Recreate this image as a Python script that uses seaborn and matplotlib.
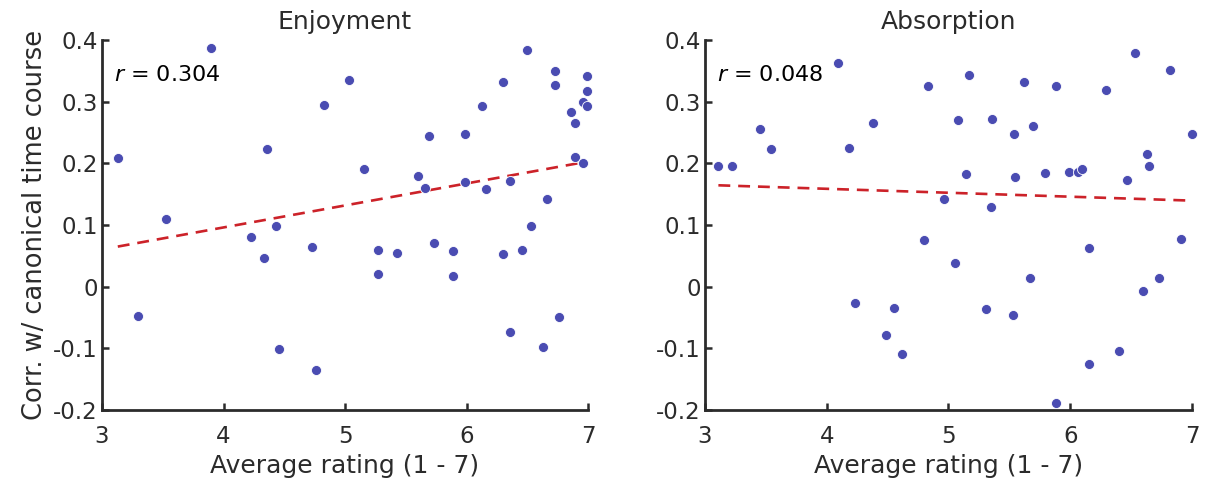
import numpy as np
import pandas as pd
import matplotlib
matplotlib.use("Agg")
import matplotlib.pyplot as plt
import seaborn as sns

# ---- data ----
enj_x = [3.13, 3.30, 3.53, 3.90, 4.23, 4.33, 4.36, 4.43, 4.46, 4.73, 4.76, 4.83,
         5.03, 5.16, 5.27, 5.27, 5.43, 5.60, 5.66, 5.69, 5.73, 5.89, 5.89, 5.99,
         5.99, 6.13, 6.16, 6.30, 6.30, 6.36, 6.36, 6.46, 6.50, 6.53, 6.63, 6.66,
         6.73, 6.73, 6.76, 6.86, 6.89, 6.89, 6.96, 6.96, 6.99, 6.99, 6.99]
enj_y = [0.209, -0.048, 0.109, 0.387, 0.081, 0.046, 0.2225, 0.099, -0.101, 0.064, -0.1345, 0.294,
         0.335, 0.191, 0.059, 0.020, 0.0545, 0.179, 0.160, 0.245, 0.070, 0.058, 0.018, 0.248,
         0.170, 0.293, 0.159, 0.332, 0.0535, 0.172, -0.074, 0.060, 0.383, 0.098, -0.098, 0.1415,
         0.349, 0.327, -0.049, 0.283, 0.266, 0.211, 0.299, 0.200, 0.341, 0.317, 0.293]

abs_x = [3.11, 3.22, 3.45, 3.54, 4.09, 4.18, 4.23, 4.38, 4.49, 4.55, 4.62, 4.80,
         4.83, 4.96, 5.05, 5.08, 5.14, 5.17, 5.31, 5.35, 5.36, 5.53, 5.54, 5.55,
         5.62, 5.67, 5.69, 5.79, 5.88, 5.88, 5.99, 6.06, 6.10, 6.15, 6.15, 6.29,
         6.40, 6.47, 6.53, 6.60, 6.63, 6.65, 6.73, 6.82, 6.91, 7.00]
abs_y = [0.1955, 0.1955, 0.255, 0.2225, 0.362, 0.225, -0.027, 0.265, -0.079, -0.034, -0.110, 0.076,
         0.325, 0.1415, 0.039, 0.270, 0.183, 0.343, -0.037, 0.129, 0.272, -0.0465, 0.247, 0.178,
         0.332, 0.0134, 0.261, 0.185, 0.325, -0.188, 0.186, 0.1864, 0.191, 0.062, -0.125, 0.319,
         -0.105, 0.173, 0.379, -0.0065, 0.215, 0.1955, 0.0134, 0.352, 0.078, 0.248]

titles = ["Enjoyment", "Absorption"]
r_labels = ["0.304", "0.048"]
x_ticks = [3, 4, 5, 6, 7]
y_ticks = [-0.2, -0.1, 0, 0.1, 0.2, 0.3, 0.4]
y_ticklabels = ["-0.2", "-0.1", "0", "0.1", "0.2", "0.3", "0.4"]
xlabel = "Average rating (1 - 7)"
ylabel = "Corr. w/ canonical time course"

# ---- style ----
sns.set_theme(style="white")
plt.rcParams["font.family"] = ["DejaVu Sans"]
plt.rcParams["axes.unicode_minus"] = False
text_col = "#2b2b2b"
dot_col = "#4a4cb2"
line_col = "#cc2229"

fig = plt.figure(figsize=(12.07, 4.86), dpi=100)
W, H = 1207, 486
positions = [
    [102 / W, (H - 410) / H, 486 / W, 370 / H],
    [705 / W, (H - 410) / H, 487 / W, 370 / H],
]

datasets = [(enj_x, enj_y), (abs_x, abs_y)]
for i, ((xs, ys), pos) in enumerate(zip(datasets, positions)):
    ax = fig.add_axes(pos)
    df = pd.DataFrame({"x": xs, "y": ys})
    sns.regplot(data=df, x="x", y="y", ax=ax, ci=None,
                scatter_kws=dict(s=52, color=dot_col, edgecolor="white",
                                 linewidths=0.6, alpha=1, zorder=3, clip_on=False),
                line_kws=dict(color=line_col, linestyle=(0, (4.5, 3)), linewidth=1.9, zorder=2))
    ax.set_xlim(3, 7)
    ax.set_ylim(-0.2, 0.4)
    ax.set_xticks(x_ticks)
    ax.set_xticklabels([str(t) for t in x_ticks])
    ax.set_yticks(y_ticks)
    ax.set_yticklabels(y_ticklabels)
    ax.tick_params(direction="in", length=5, width=1.8, colors=text_col,
                   labelsize=16.5, left=True, bottom=True, labelcolor=text_col)
    ax.tick_params(axis="y", pad=3)
    ax.tick_params(axis="x", pad=11)
    for s in ["top", "right"]:
        ax.spines[s].set_visible(False)
    for s in ["left", "bottom"]:
        ax.spines[s].set_color(text_col)
        ax.spines[s].set_linewidth(2)
    ax.set_xlabel(xlabel, fontsize=18, color=text_col, labelpad=4)
    if i == 0:
        ax.set_ylabel(ylabel, fontsize=18.5, color=text_col, labelpad=4)
    else:
        ax.set_ylabel("")
    ax.set_title(titles[i], fontsize=18, color=text_col, pad=8)
    ax.text(0.025, 0.905, r"$\it{r}$ = " + r_labels[i], transform=ax.transAxes,
            fontsize=16, color="black", ha="left", va="center")

fig.savefig("out.png", dpi=100, facecolor="white")
